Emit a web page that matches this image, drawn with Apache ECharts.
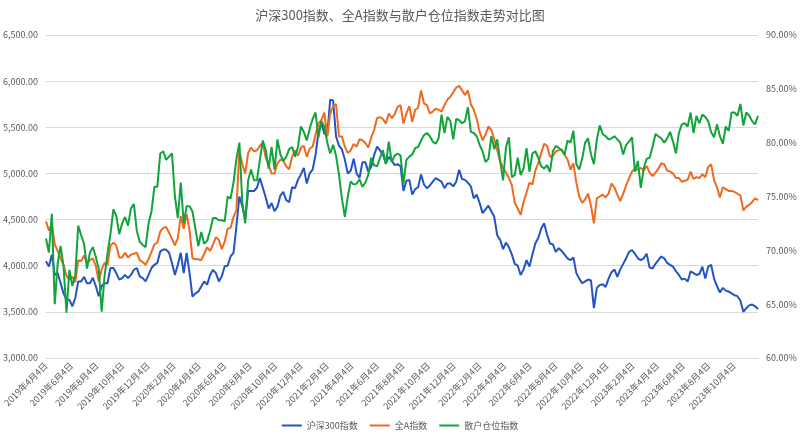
<!DOCTYPE html>
<html>
<head>
<meta charset="utf-8">
<script src="https://cdn.jsdelivr.net/npm/echarts@6/dist/echarts.min.js"></script>
<style>
html,body{margin:0;padding:0;background:#fff;}
#chart{width:800px;height:441px;}
</style>
</head>
<body>
<div id="chart"></div>
<script>
// ---- data ----
const titleText = '沪深300指数、全A指数与散户仓位指数走势对比图';
const seriesNames = ['沪深300指数', '全A指数', '散户仓位指数'];
const startDate = [2019, 4, 4];   // first weekly observation (Thursday)
const weekStepDays = 7;

const hs300 = [
4050,3990,4120,3900,3920,3810,3700,3630,3630,3560,
3650,3830,3830,3880,3810,3810,3870,3780,3670,3780,
3810,3810,3975,3975,3920,3850,3865,3900,3865,3900,
3955,3975,3885,3865,3830,3900,3975,4010,4030,4155,
4175,4175,4140,4030,3900,4010,4140,3920,4140,3920,
3665,3700,3720,3775,3830,3795,3900,3955,3920,3830,
3885,3995,4000,4100,4140,4430,4750,4645,4500,4810,
4810,4810,4845,4950,4845,4740,4620,4680,4590,4640,
4760,4800,4710,4690,4850,4840,4930,4990,5060,4890,
5000,5040,5200,5450,5550,5430,5420,5800,5790,5400,
5300,5260,5150,5000,5030,5160,5000,4950,5120,5120,
5020,5070,5200,5290,5250,5200,5110,5180,5140,5090,
5100,5080,4810,4920,4930,4770,4830,4850,4990,4880,
4840,4870,4910,4950,4930,4910,4840,4890,4890,4860,
4910,5040,4940,4930,4900,4860,4730,4770,4680,4570,
4610,4650,4590,4530,4330,4280,4180,4250,4200,4120,
4020,4000,3900,3960,4060,3990,4120,4240,4300,4400,
4460,4340,4240,4230,4150,4190,4160,4120,4080,4060,
4090,3920,3860,3810,3830,3850,3840,3540,3760,3790,
3800,3770,3860,3930,3960,3880,3960,4020,4080,4150,
4170,4130,4080,4060,4080,4130,3980,3970,4020,4060,
4100,4080,4030,4010,3990,3940,3900,3850,3860,3830,
3940,3920,3900,3910,3990,3860,3990,4010,3860,3780,
3710,3760,3730,3720,3700,3680,3670,3620,3500,3540,
3570,3580,3560,3530
];

const allA = [
4480,4380,4450,4230,4160,4080,4010,3890,3850,3880,
3820,4060,4050,4110,4030,4060,4080,4000,3830,3960,
4030,4010,4220,4250,4220,4090,4090,4140,4090,4120,
4130,4140,4060,4040,4010,4070,4150,4230,4250,4370,
4410,4420,4360,4290,4220,4300,4540,4400,4560,4380,
4080,4070,4070,4060,4130,4200,4160,4230,4310,4280,
4180,4260,4400,4410,4530,4600,5250,5100,5000,5220,
5280,5240,5250,5300,5330,5170,5090,5000,5000,5110,
5150,5140,5075,5045,5180,5250,5190,5280,5300,5180,
5270,5290,5420,5540,5580,5660,5400,5650,5730,5750,
5400,5400,5290,5220,5250,5320,5290,5370,5360,5330,
5280,5390,5470,5600,5610,5590,5540,5650,5600,5640,
5720,5740,5540,5650,5730,5560,5690,5710,5900,5760,
5740,5650,5670,5700,5690,5670,5740,5800,5830,5880,
5930,5950,5900,5850,5900,5750,5690,5590,5450,5360,
5420,5510,5470,5370,5250,5130,5060,5010,4950,4870,
4680,4620,4550,4690,4790,4900,4880,5030,5110,5220,
5320,5300,5180,5190,5240,5250,5260,5200,5150,5040,
5110,4900,4750,4680,4720,4780,4650,4460,4730,4750,
4770,4740,4780,4890,4850,4770,4700,4780,4870,4950,
5020,5050,5040,5060,5030,5080,5010,4970,5010,5050,
5110,5100,5030,5020,5000,4950,4950,4910,4920,4930,
5020,4940,4960,4950,4990,4960,5070,5100,4930,4850,
4740,4850,4830,4810,4810,4800,4780,4760,4600,4640,
4660,4690,4730,4710
];

const retailPos = [
71.1,69.8,73.4,65.0,68.8,70.4,68.5,64.2,68.2,66.7,
67.7,72.3,71.4,70.6,68.3,69.8,70.3,69.4,68.3,64.3,
67.6,69.7,71.5,73.8,73.2,71.5,72.5,73.1,72.3,73.9,
74.3,71.8,70.8,70.5,70.3,72.5,73.6,75.9,75.9,79.0,
79.2,78.4,78.7,79.0,75.0,73.0,76.3,72.5,74.1,74.1,
73.6,72.0,70.4,71.7,70.6,70.9,71.8,73.0,73.0,72.8,
72.8,72.7,75.0,74.8,76.3,78.5,80.0,74.5,72.5,76.5,
77.5,76.5,76.5,78.4,80.2,79.3,77.6,79.6,77.5,80.3,
78.9,78.3,78.7,79.4,79.6,78.7,79.6,81.5,81.0,80.2,
81.3,82.2,82.8,80.5,82.0,81.5,80.0,79.0,79.8,78.8,
77.0,74.8,73.1,75.0,76.4,76.1,76.2,76.6,75.9,76.3,
77.0,78.6,77.9,77.8,78.6,79.3,78.0,80.1,78.2,78.8,
79.0,78.8,76.2,78.4,78.7,78.9,79.5,79.6,80.2,80.7,
80.9,80.6,80.1,79.9,80.4,82.6,80.9,82.4,82.0,80.3,
82.2,82.1,81.8,82.0,83.3,81.0,80.9,80.6,79.8,79.2,
78.2,78.5,80.6,79.4,80.3,78.3,76.5,79.6,80.5,76.8,
77.0,78.6,77.0,77.6,79.5,77.3,79.0,79.2,78.6,77.8,
77.6,77.9,77.3,79.2,79.7,79.5,79.3,78.9,80.2,80.0,
81.1,78.0,77.5,78.5,80.0,80.4,78.9,78.0,80.3,81.6,
80.8,80.6,80.3,80.4,80.6,80.3,80.0,78.9,79.8,80.1,
80.5,77.3,78.3,75.8,77.6,78.5,78.6,79.6,80.8,80.6,
80.4,80.0,80.4,81.0,80.1,79.0,80.9,81.7,81.8,81.5,
82.8,80.9,82.5,81.8,82.6,82.4,82.0,81.0,80.5,81.7,
80.6,79.9,81.5,81.1,82.8,82.8,82.5,83.6,81.6,82.8,
82.5,82.0,81.7,82.5
];

// x-axis tick labels (dates, year-month-day)
const tickDates = [
[2019,4,4],[2019,6,4],[2019,8,4],[2019,10,4],[2019,12,4],
[2020,2,4],[2020,4,4],[2020,6,4],[2020,8,4],[2020,10,4],[2020,12,4],
[2021,2,4],[2021,4,4],[2021,6,4],[2021,8,4],[2021,10,4],[2021,12,4],
[2022,2,4],[2022,4,4],[2022,6,4],[2022,8,4],[2022,10,4],[2022,12,4],
[2023,2,4],[2023,4,4],[2023,6,4],[2023,8,4],[2023,10,4]
];
const leftTicks = { min: 3000, max: 6500, interval: 500 };
const rightTicks = { min: 60, max: 90, interval: 5 };

// ---- build ----
const colors = ['#2453C4', '#EE6A20', '#12A33C'];
const DAY = 86400000;
const t0 = Date.UTC(startDate[0], startDate[1] - 1, startDate[2]);
const dayOffset = (a) => Math.round((Date.UTC(a[0], a[1] - 1, a[2]) - t0) / DAY);
const weekDays = hs300.map((_, i) => i * weekStepDays);
const pair = (arr) => arr.map((v, i) => [weekDays[i], v]);
const tickValues = tickDates.map(dayOffset);
const dayLabel = (off) => { const d = new Date(t0 + off * DAY); return d.getUTCFullYear() + '年' + (d.getUTCMonth() + 1) + '月' + d.getUTCDate() + '日'; };

const fmtNum = (v) => v.toFixed(2).replace(/\B(?=(\d{3})+(?!\d))/g, ',');
const font = '"Noto Sans CJK SC","Noto Sans",sans-serif';
const txt = '#595959';

const chart = echarts.init(document.getElementById('chart'), null, { renderer: 'canvas' });
chart.setOption({
  animation: false,
  color: colors,
  textStyle: { fontFamily: font },
  title: {
    text: titleText, left: 'center', top: 4,
    textStyle: { fontSize: 13, fontWeight: 'normal', color: txt, fontFamily: font }
  },
  legend: {
    data: seriesNames, bottom: 6, left: 'center',
    icon: 'rect', itemWidth: 20, itemHeight: 2, itemGap: 12,
    textStyle: { fontSize: 9, color: txt, fontFamily: font }
  },
  grid: { left: 45, right: 42, top: 35, bottom: 83, containLabel: false },
  xAxis: {
    type: 'value',
    min: weekDays[0], max: weekDays[weekDays.length - 1],
    splitLine: { show: false },
    axisLine: { show: true, lineStyle: { color: '#d9d9d9', width: 1 } },
    axisTick: { show: false },
    axisLabel: {
      customValues: tickValues,
      rotate: 45, fontSize: 9, color: txt, margin: 6, fontFamily: font,
      hideOverlap: false, showMinLabel: true, showMaxLabel: true,
      formatter: (v) => dayLabel(v)
    }
  },
  yAxis: [
    {
      type: 'value', min: leftTicks.min, max: leftTicks.max, interval: leftTicks.interval,
      axisLine: { show: false }, axisTick: { show: false },
      splitLine: { lineStyle: { color: '#d9d9d9', width: 1 } },
      axisLabel: { fontSize: 9, color: txt, margin: 8, fontFamily: font, formatter: fmtNum }
    },
    {
      type: 'value', min: rightTicks.min, max: rightTicks.max, interval: rightTicks.interval,
      axisLine: { show: false }, axisTick: { show: false }, splitLine: { show: false },
      axisLabel: { fontSize: 9, color: txt, margin: 8, fontFamily: font, formatter: (v) => v.toFixed(2) + '%' }
    }
  ],
  series: [
    { name: seriesNames[0], type: 'line', yAxisIndex: 0, data: pair(hs300), showSymbol: false, symbol: 'none', lineStyle: { width: 2, color: colors[0] } },
    { name: seriesNames[1], type: 'line', yAxisIndex: 0, data: pair(allA), showSymbol: false, symbol: 'none', lineStyle: { width: 2, color: colors[1] } },
    { name: seriesNames[2], type: 'line', yAxisIndex: 1, data: pair(retailPos), showSymbol: false, symbol: 'none', lineStyle: { width: 2, color: colors[2] } }
  ]
});
</script>
</body>
</html>
